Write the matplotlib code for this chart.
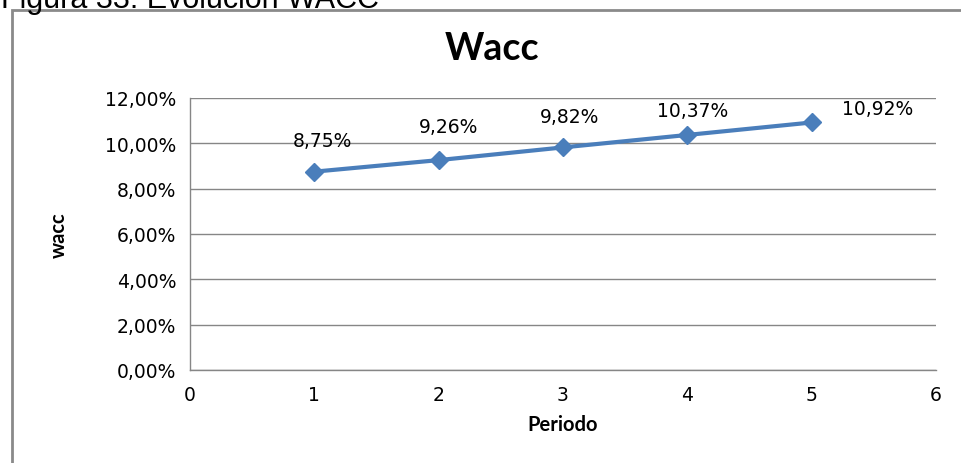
import matplotlib
matplotlib.use('Agg')
import matplotlib.pyplot as plt
from matplotlib.patches import Rectangle
from matplotlib.ticker import FuncFormatter

# ─── Data ────────────────────────────────────────────────────────────────────
periodos = [1, 2, 3, 4, 5]
wacc = [8.75, 9.26, 9.82, 10.37, 10.92]
# label offsets in pixels (dx, dy) relative to each point
label_offsets = [(8, 31), (10, 34), (7, 31), (5, 24), (66, 14)]

LINE = '#4A7EBB'
GRID = '#868686'
TXT = '#000000'


def pct_es(v, _pos=None):
    return f"{v:.2f}%".replace('.', ',')


fig = plt.figure(figsize=(9.61, 4.64), dpi=100, facecolor='white')

# caption of the figure, cut off at the top edge
fig.text(0.001, 1.0, 'Figura 33: Evolución WACC', fontsize=22, family='Liberation Sans',
         ha='left', va='center', color='#000000')

# outer chart frame
fig.patches.append(Rectangle((12 / 961, -0.01), 1.0, 1 - 11 / 464 + 0.01,
                             transform=fig.transFigure, fill=False,
                             edgecolor='#8a8a8a', linewidth=2))

ax = fig.add_axes([190 / 961, 1 - 371 / 464, 746 / 961, 272 / 464])
ax.plot(periodos, wacc, color=LINE, linewidth=3, marker='D', markersize=9,
        markerfacecolor=LINE, markeredgecolor=LINE, zorder=3)

for x, y, (dx, dy) in zip(periodos, wacc, label_offsets):
    ax.annotate(pct_es(y), (x, y), xytext=(dx, dy), textcoords='offset pixels',
                ha='center', va='center', fontsize=13.5, color=TXT,
                family='DejaVu Sans')

ax.set_xlim(0, 6)
ax.set_ylim(0, 12)
ax.set_xticks(range(0, 7))
ax.set_yticks(range(0, 13, 2))
ax.yaxis.set_major_formatter(FuncFormatter(pct_es))
ax.grid(axis='y', color=GRID, linewidth=1)
ax.set_axisbelow(True)
ax.tick_params(length=0, labelsize=13.5, colors=TXT, pad=10)
ax.tick_params(axis='x', pad=11)
for name, sp in ax.spines.items():
    if name in ('left', 'bottom'):
        sp.set_color(GRID)
        sp.set_linewidth(1)
    else:
        sp.set_visible(False)

ax.set_title('Wacc', fontsize=27, fontweight='bold', family='Lato', pad=28, x=0.405)
ax.set_xlabel('Periodo', fontsize=14.5, fontweight='bold', family='Lato', labelpad=7)
ax.set_ylabel('wacc', fontsize=14.5, fontweight='bold', family='Lato', labelpad=26)

plt.savefig('out.png', dpi=100, facecolor='white')
